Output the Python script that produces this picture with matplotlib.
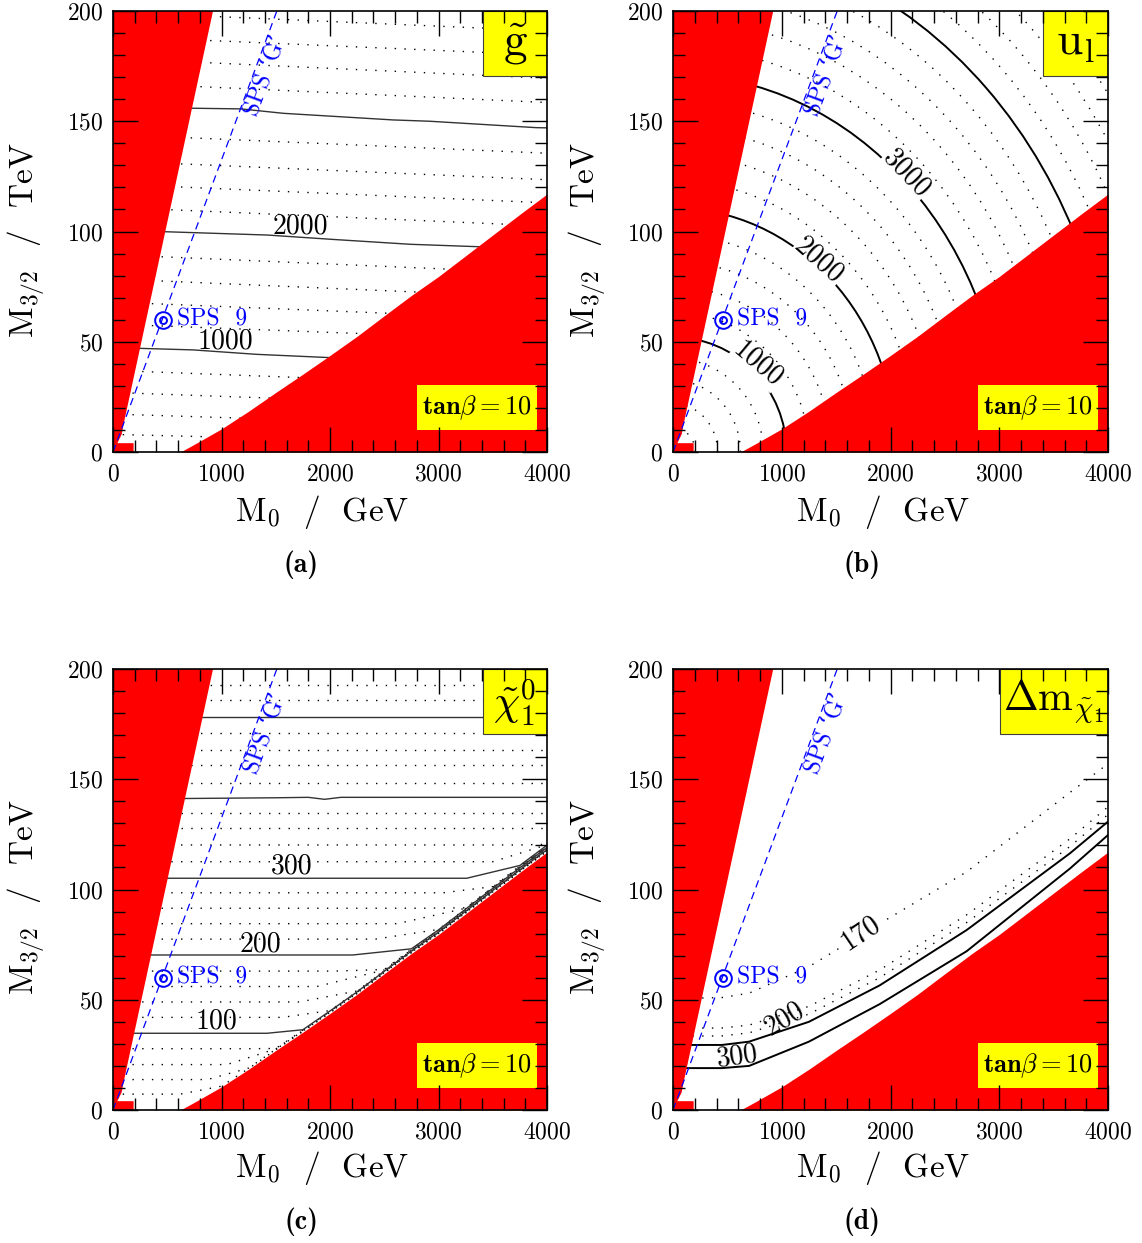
import matplotlib
matplotlib.use('Agg')
import matplotlib.pyplot as plt
from matplotlib.patches import Arc, Rectangle

plt.rcParams['font.family'] = 'cmr10'
plt.rcParams['mathtext.fontset'] = 'cm'
plt.rcParams['axes.formatter.use_mathtext'] = True

# excluded (red) regions, same in all four panels
edge_m0 = [620, 750, 1000, 1250, 1500, 1750, 2000, 2250, 2500, 2750, 3000, 3250, 3500, 3750, 4000]
edge_m32 = [0, 3.5, 10.5, 18.5, 27, 35.3, 43.8, 52.5, 61.8, 71, 79.6, 89, 98.4, 107.8, 117]
left_m0 = [0, 0, 922, 95, 80, 40, 190, 190]
left_m32 = [0, 200, 200, 12, 8, 4, 4, 0]

# SPS 'G' slope and SPS 9 point
slope_m0 = [0, 1510]
slope_m32 = [0, 200]
sps9_m0, sps9_m32 = 460, 60

# (a) gluino mass
gl_dot_levels = [200, 400, 600, 800, 1200, 1400, 1600, 1800, 2200, 2400, 2600, 2800, 3200, 3400, 3600, 3800]
gl_dot_left = [8.0, 17.2, 27.0, 37.0, 58.0, 68.0, 78.5, 89.5, 111, 121.5, 132, 144, 167.5, 178.5, 188.5, 199.5]
gl_dot_right = [3.0, 11.0, 20.0, 29.5, 50.5, 60.0, 70.0, 81.0, 102.5, 113.0, 123.5, 135.5, 158.5, 169.5, 180, 191]
gl_1000_m0 = [0, 250, 740, 1320, 2000, 2400]
gl_1000_m32 = [47.2, 47.0, 46.3, 44.3, 42.8, 42.3]
gl_2000_m0 = [0, 480, 1420, 2030, 2740, 3370, 3700]
gl_2000_m32 = [100.3, 99.9, 98.4, 96.4, 94.2, 93.1, 92.6]
gl_3000_m0 = [0, 740, 1180, 1570, 2580, 2920, 3900, 4000]
gl_3000_m32 = [156.3, 155.9, 155.6, 153.6, 150.6, 150.0, 147.1, 147.0]

# (b) squark u_l mass: quarter-ellipse contours (semi-axes along M0 and M3/2)
sq_levels = [200, 400, 600, 800, 1000, 1200, 1400, 1600, 1800, 2000, 2200, 2400,
             2600, 2800, 3000, 3200, 3400, 3600, 3800, 4000, 4200, 4400, 4600, 4800]
sq_a = [205, 410, 620, 830, 1044, 1250, 1455, 1660, 1860, 2054, 2255, 2455,
        2655, 2860, 3060, 3265, 3470, 3670, 3875, 4078, 4280, 4485, 4690, 4895]
sq_b = [11, 22, 32.5, 42.5, 52.1, 63.5, 75, 86.5, 98.5, 110.7, 123, 135,
        147, 159, 171.3, 183.5, 196, 208.5, 221, 233.2, 245.5, 258, 270, 282]

# (c) lightest neutralino mass
chi_levels = [20, 40, 60, 80, 100, 120, 140, 160, 180, 200, 220, 240, 260, 280, 300,
              320, 340, 360, 380, 400, 420, 440, 460, 480, 500, 520, 540]
chi_flat = [7.2, 13.8, 20.6, 27.8, 34.8, 42, 49, 56, 63, 70.3, 77.5, 84.5, 91.5, 98.5, 105.1,
            112.6, 120.2, 127.8, 134.5, 141, 148.2, 156.5, 163.3, 170.8, 178.4, 186, 192.7]
chi_bend = [620, 870, 1050, 1230, 1420, 1560, 1720, 1880, 2040, 2210, 2420, 2620, 2820, 3040, 3260,
            3500, 3750, 4000, 4000, 4000, 4000, 4000, 4000, 4000, 4000, 4000, 4000]
chi_gap = [0.3, 0.5, 0.7, 0.9, 1.1, 1.3, 1.5, 1.7, 1.9, 2.1, 2.3, 2.5, 2.7, 2.9, 3.1,
           3.3, 3.5, 0, 0, 0, 0, 0, 0, 0, 0, 0, 0]
chi_400_m0 = [0, 1500, 1800, 1950, 2100, 4000]
chi_400_m32 = [141, 141.6, 141.8, 140.9, 141.8, 141.8]

# (d) mass difference
dm_m0 = [0, 450, 700, 1250, 1900, 2700, 3650, 4000]
dm_170 = [50.5, 51, 53, 65, 84.5, 108, 144, 157]
dm_180 = [37, 37.2, 38.5, 47, 63.5, 88.5, 123, 137.5]
dm_190 = [33.5, 33.6, 35, 43.5, 60, 85, 119.5, 134]
dm_200 = [29.5, 29.5, 31, 40, 56.5, 81.6, 116.4, 130.8]
dm_300 = [19, 19, 20, 31, 48, 72, 109.5, 124.7]

DOT = dict(color='k', lw=1.0, ls=(0, (1, 6)), zorder=1.8)
W, H = 1142, 1243
fig = plt.figure(figsize=(W / 100, H / 100), dpi=100)


def make_axes(l, t, r, b):
    ax = fig.add_axes([l / W, 1 - b / H, (r - l) / W, (b - t) / H])
    ax.set_xlim(0, 4000)
    ax.set_ylim(0, 200)
    ax.set_xticks(range(0, 4001, 1000))
    ax.set_yticks(range(0, 201, 50))
    ax.set_xticks(range(0, 4001, 200), minor=True)
    ax.set_yticks(range(0, 201, 10), minor=True)
    ax.tick_params(which='both', direction='in', top=True, right=True, width=1.0, labelsize=17)
    ax.tick_params(which='major', length=18)
    ax.tick_params(which='minor', length=8.5)
    ax.tick_params(axis='x', pad=8)
    ax.tick_params(axis='y', pad=7)
    ax.set_axisbelow(False)
    for s in ax.spines.values():
        s.set_linewidth(1.2)
    ax.fill_between(edge_m0, 0, edge_m32, color='red', lw=0, zorder=2.2)
    ax.fill(left_m0, left_m32, color='red', lw=0, zorder=2.2)
    ax.plot(slope_m0, slope_m32, color='blue', lw=0.9, ls=(0, (6, 4)), zorder=2.4)
    ax.text(1410, 171, 'SPS \u2018G\u2019', rotation=69.6, color='blue', fontsize=17,
            family=['cmr10', 'DejaVu Serif'],
            ha='center', va='center', rotation_mode='anchor', zorder=3)
    ax.plot(sps9_m0, sps9_m32, marker='o', ms=12, mfc='none', mec='blue', mew=1.4, zorder=3)
    ax.plot(sps9_m0, sps9_m32, marker='o', ms=5, mfc='none', mec='blue', mew=1.4, zorder=3)
    ax.text(590, 60, 'SPS  9', color='blue', fontsize=17, ha='left', va='center', zorder=3)
    ax.add_patch(Rectangle((2800, 10), 1106, 20.4, fc='yellow', ec='none', zorder=2.3))
    ax.text(3353, 20.2, r'$\mathbf{tan}\mathbf{\beta}\mathbf{=10}$', fontsize=19,
            ha='center', va='center', zorder=3)
    return ax


def corner_box(ax, x0, text, size):
    ax.add_patch(Rectangle((x0, 170.5), 4000 - x0, 29.5, fc='yellow', ec='0.25', lw=0.8, zorder=2.3))
    ax.text((x0 + 4000) / 2, 185, text, fontsize=size, ha='center', va='center', zorder=3)


def clabel(ax, x, y, s, rot=0, cut=True):
    box = dict(fc='white', ec='none', pad=0.5) if cut else None
    ax.text(x, y, s, fontsize=20, rotation=rot, ha='center', va='center', zorder=2.1, bbox=box)


# ---- (a)
ax = make_axes(113, 11, 547, 452)
for y0, y1 in zip(gl_dot_left, gl_dot_right):
    ax.plot([0, 4000], [y0, y1], **DOT)
for xs, ys in [(gl_1000_m0, gl_1000_m32), (gl_2000_m0, gl_2000_m32), (gl_3000_m0, gl_3000_m32)]:
    ax.plot(xs, ys, color='0.2', lw=1.0, zorder=1.9)
clabel(ax, 1032, 50.2, '1000', cut=False)
clabel(ax, 1723, 102.2, '2000', cut=False)
corner_box(ax, 3410, r'$\tilde{\mathrm{g}}$', 34)

# ---- (b)
ax = make_axes(673, 11, 1108, 452)
for lev, a, b in zip(sq_levels, sq_a, sq_b):
    if lev % 1000 == 0:
        ax.add_patch(Arc((0, 0), 2 * a, 2 * b, theta1=0, theta2=90, color='k', lw=1.4, zorder=1.9))
    else:
        ax.add_patch(Arc((0, 0), 2 * a, 2 * b, theta1=0, theta2=90, color='k', lw=1.0,
                         ls=(0, (1, 6)), zorder=1.8))
clabel(ax, 775, 39.8, '1000', -40)
clabel(ax, 1343, 86.8, '2000', -41)
clabel(ax, 2149, 126.4, '3000', -46)
corner_box(ax, 3402, r'$\mathrm{u}_\mathrm{l}$', 34)

# ---- (c)
ax = make_axes(113, 669, 547, 1110)
for lev, h, bend, gap in zip(chi_levels, chi_flat, chi_bend, chi_gap):
    if lev == 400:
        ax.plot(chi_400_m0, chi_400_m32, color='0.2', lw=1.0, zorder=1.9)
        continue
    xs = [0, bend]
    ys = [h, h]
    for ex, ey in zip(edge_m0, edge_m32):
        if ex > bend and ey + gap > h:
            xs.append(ex)
            ys.append(ey + gap)
    if lev % 100 == 0:
        ax.plot(xs, ys, color='0.2', lw=1.0, zorder=1.9)
    else:
        ax.plot(xs, ys, **DOT)
clabel(ax, 956, 40.3, '100', cut=False)
clabel(ax, 1355, 75.3, '200', cut=False)
clabel(ax, 1647, 110.4, '300', cut=False)
corner_box(ax, 3410, r'$\tilde{\chi}^0_1$', 30)

# ---- (d)
ax = make_axes(673, 669, 1108, 1110)
for ys in [dm_170, dm_180, dm_190]:
    ax.plot(dm_m0, ys, **DOT)
for ys in [dm_200, dm_300]:
    ax.plot(dm_m0, ys, color='k', lw=1.4, zorder=1.9)
clabel(ax, 1729, 80.4, '170', 34)
clabel(ax, 1025, 41.5, '200', 31, cut=False)
clabel(ax, 591, 24.2, '300', 8, cut=False)
corner_box(ax, 3007, r'$\Delta\mathrm{m}_{\tilde{\chi}_1}$', 30)

# axis titles and panel captions
for cx, cy in [(322, 512), (883, 512), (322, 1168), (883, 1168)]:
    fig.text(cx / W, 1 - cy / H, r'$\mathrm{M}_0$  /  GeV', fontsize=24, ha='center', va='center')
for cx, cy in [(27, 240), (588, 240), (27, 897), (588, 897)]:
    fig.text(cx / W, 1 - cy / H, r'$\mathrm{M}_{3/2}$  /  TeV', fontsize=24, rotation=90,
             ha='center', va='center')
for s, cx, cy in [('(a)', 301, 565), ('(b)', 862, 565), ('(c)', 301, 1222), ('(d)', 862, 1222)]:
    fig.text(cx / W, 1 - cy / H, s, fontsize=20, family='cmb10', ha='center', va='center')

fig.savefig('out.png', dpi=100)
